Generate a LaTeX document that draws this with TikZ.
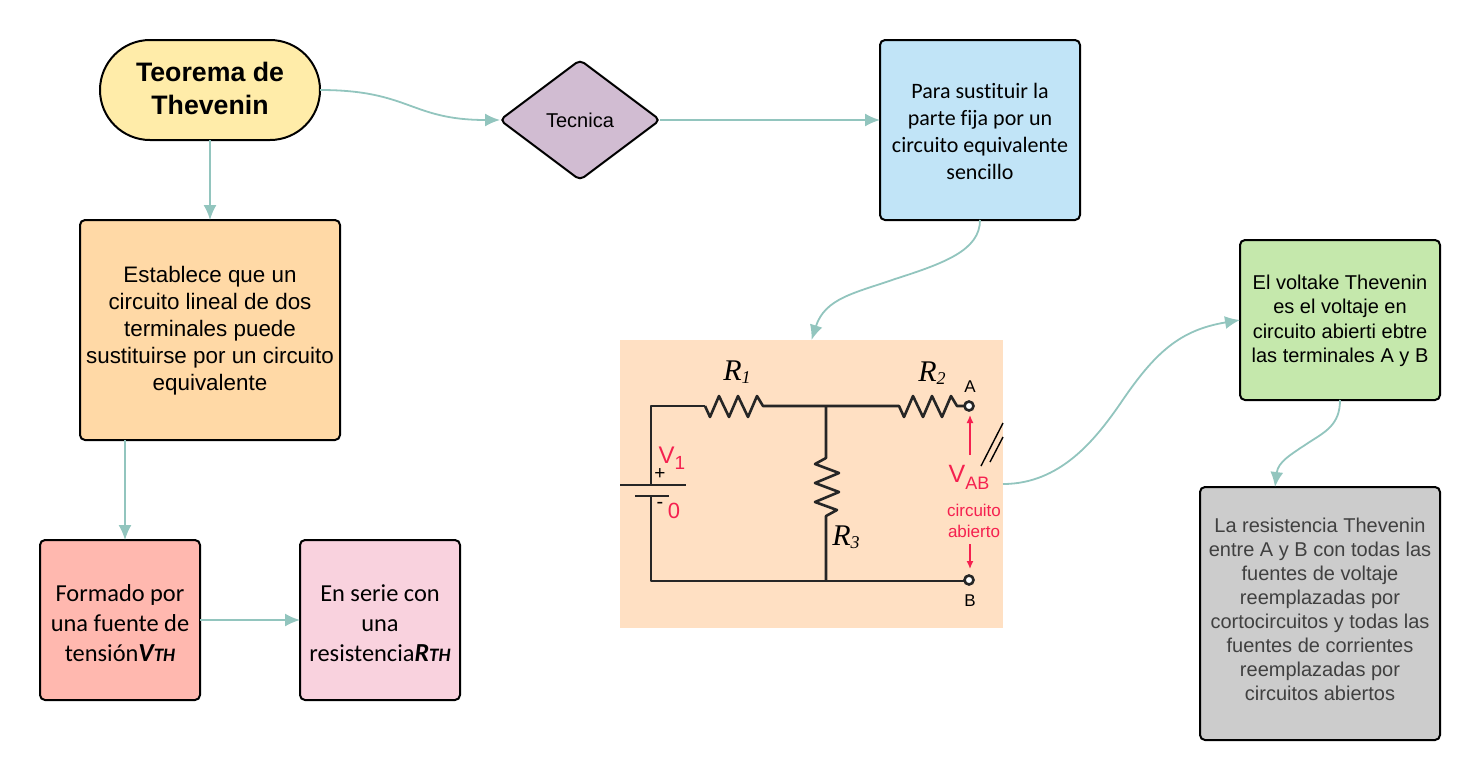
\documentclass[tikz,border=0pt]{standalone}
\usepackage{fontspec}
\setmainfont{Liberation Sans}
\newfontfamily\carlito[Ligatures=NoCommon]{Carlito}
\newfontfamily\timesit{Liberation Serif}
\usetikzlibrary{arrows.meta, positioning, shapes.geometric}

\definecolor{linkcol}{HTML}{92C5BE}
\definecolor{startcol}{HTML}{FFECA9}
\definecolor{lawcol}{HTML}{FFD9A6}
\definecolor{sourcecol}{HTML}{FFB8AF}
\definecolor{seriescol}{HTML}{F9D2DE}
\definecolor{diamondcol}{HTML}{D1BCD2}
\definecolor{replacecol}{HTML}{C1E4F7}
\definecolor{voltcol}{HTML}{C5E8AC}
\definecolor{resistcol}{HTML}{CCCCCC}
\definecolor{imagecol}{HTML}{FFE0C3}
\definecolor{redtext}{HTML}{F5204F}

\newcommand{\sizetext}[2]{\fontsize{#1}{#2}\selectfont}
\newcommand{\padtop}[1]{\rule{0pt}{#1}}
\newcommand{\padbot}[1]{\rule[-#1]{0pt}{#1}}

\begin{document}
\begin{tikzpicture}[
        x=1pt, y=-1pt,
        card/.style={rectangle, draw=black, line width=2pt, rounded corners=5pt, align=center, outer sep=0pt, inner sep=2pt},
        link/.style={-{Latex[length=15pt, width=13pt]}, line width=1.8pt, draw=linkcol},
        wire/.style={line width=2.6pt, line join=round, black!85},
        redlabel/.style={text=redtext, inner sep=0pt, align=center}
    ]
        \useasboundingbox (0,0) rectangle (1480,780);

        \node[card, fill=startcol, rounded corners=50pt, minimum width=220pt, minimum height=100pt, font=\sizetext{26.7}{33}\bfseries] (Teorema) at (210,90) {Teorema de\\Thevenin\padbot{4pt}};

        \node[diamond, draw=black, line width=2pt, rounded corners=5pt, fill=diamondcol, minimum width=160pt, minimum height=120pt, inner sep=0pt, outer sep=0pt, font=\sizetext{20}{24}] (Tecnica) at (580,120) {Tecnica};

        \node[card, fill=replacecol, minimum width=200pt, minimum height=180pt, font=\carlito\sizetext{22}{27}] (Sustituir) at (980,130) {\padtop{18.3pt}Para sustituir la\\parte fija por un\\circuito equivalente\\sencillo};

        \node[card, fill=lawcol, minimum width=260pt, minimum height=220pt, font=\sizetext{22.4}{27}] (Establece) at (210,330) {\padtop{18.4pt}Establece que un\\circuito lineal de dos\\terminales puede\\sustituirse por un circuito\\equivalente};

        \node[card, fill=sourcecol, minimum width=160pt, minimum height=160pt, font=\carlito\sizetext{24.4}{30}] (Fuente) at (120,620) {\padtop{24pt}Formado por\\una fuente de\\tensión{\bfseries\itshape\sizetext{26}{30}V{\sizetext{19}{30}TH}}};

        \node[card, fill=seriescol, minimum width=160pt, minimum height=160pt, font=\carlito\sizetext{24.4}{30}] (Serie) at (380,620) {\padtop{24pt}En serie con\\una\\resistencia{\bfseries\itshape\sizetext{26}{30}R{\sizetext{19}{30}TH}}};

        \node[card, fill=voltcol, minimum width=200pt, minimum height=160pt, font=\sizetext{20}{24.5}] (Voltaje) at (1340,320) {\padtop{16.6pt}El voltake Thevenin\\es el voltaje en\\circuito abierti ebtre\\las terminales A y B};

        \node[card, fill=resistcol, minimum width=240pt, minimum height=253pt, text=black!75, font=\sizetext{20}{24}] (Resistencia) at (1320,613.5) {La resistencia Thevenin\\entre A y B con todas las\\fuentes de voltaje\\reemplazadas por\\cortocircuitos y todas las\\fuentes de corrientes\\reemplazadas por\\circuitos abiertos\padbot{9pt}};

        % circuit picture
        \node[rectangle, fill=imagecol, minimum width=383pt, minimum height=288pt, inner sep=0pt, outer sep=0pt] (Circuito) at (811.5,484) {};

        \draw[wire] (705,406) -- (651,406) -- (651,485);
        \draw[wire] (651,496) -- (651,581) -- (965,581);
        \draw[wire] (620,485) -- (686,485);
        \draw[wire] (635,496) -- (669,496);
        \draw[wire] (705,406) -- (710,417) -- (719,396) -- (729,417) -- (738,396) -- (748,417) -- (757,396) -- (763,406) -- (899,406) -- (904,417) -- (913,396) -- (923,417) -- (932,396) -- (942,417) -- (951,396) -- (957,406) -- (965,406);
        \draw[wire] (826,406) -- (826,458) -- (815,464) -- (839,473) -- (815,483) -- (839,492) -- (815,502) -- (837,510) -- (826,516) -- (826,581);
        \node[circle, draw=black!85, line width=2.6pt, fill=white, minimum size=9pt, inner sep=0pt] (TermA) at (969,406) {};
        \node[circle, draw=black!85, line width=2.6pt, fill=white, minimum size=9pt, inner sep=0pt] (TermB) at (969,580) {};
        \draw[black, line width=1.4pt] (981,466) -- (1003,423);
        \draw[black, line width=1.4pt] (990,462) -- (1003,437);
        \draw[-{Latex[length=8pt, width=7pt]}, redtext, line width=1.4pt] (970,455) -- (970,415);
        \draw[-{Latex[length=8pt, width=7pt]}, redtext, line width=1.4pt] (970,544) -- (970,569);

        \node[inner sep=0pt, font=\timesit\itshape\sizetext{30}{30}] (LabelR1) at (737,372) {R\raisebox{-3pt}{\sizetext{18}{18}1}};
        \node[inner sep=0pt, font=\timesit\itshape\sizetext{30}{30}] (LabelR2) at (932,373) {R\raisebox{-3pt}{\sizetext{18}{18}2}};
        \node[inner sep=0pt, font=\timesit\itshape\sizetext{30}{30}] (LabelR3) at (846,537) {R\raisebox{-3pt}{\sizetext{18}{18}3}};
        \node[inner sep=0pt, font=\sizetext{17}{17}] (LabelA) at (970,387) {A};
        \node[inner sep=0pt, font=\sizetext{17}{17}] (LabelB) at (970,601) {B};
        \node[inner sep=0pt, font=\sizetext{19}{19}] (LabelPlus) at (660,474) {+};
        \node[inner sep=0pt, font=\sizetext{20}{20}] (LabelMinus) at (660,505) {-};
        \node[redlabel, font=\sizetext{24}{24}] (LabelV) at (672,458) {V\raisebox{-6pt}{\sizetext{19}{19}1}};
        \node[redlabel, font=\sizetext{22}{22}] (LabelZero) at (674,511) {0};
        \node[redlabel, font=\sizetext{25}{25}] (LabelVab) at (969,477) {V\raisebox{-7pt}{\sizetext{18}{18}AB}};
        \node[redlabel, font=\sizetext{17}{21}] (LabelAbierto) at (974,521) {circuito\\abierto};

        \draw[link] (Teorema) -- (Establece);
        \draw[link] (Teorema.east) .. controls (410,90) and (410,120) .. (Tecnica.west);
        \draw[link] (Tecnica.east) -- (Tecnica.east -| Sustituir.west);
        \draw[link] (Sustituir.south) .. controls (980,250) and (945,263) .. (895,279) .. controls (855,293) and (825,298) .. (Circuito.north);
        \draw[link] (Circuito.east) .. controls (1060,484) and (1095,440) .. (1120,404) .. controls (1155,352) and (1180,330) .. (Voltaje.west);
        \draw[link] (Voltaje.south) .. controls (1340,425) and (1325,432) .. (1308,443) .. controls (1290,455) and (1278,462) .. ([xshift=-45pt]Resistencia.north);
        \draw[link] ([xshift=-85pt]Establece.south) -- ([xshift=5pt]Fuente.north);
        \draw[link] (Fuente) -- (Serie);
    \end{tikzpicture}
\end{document}
